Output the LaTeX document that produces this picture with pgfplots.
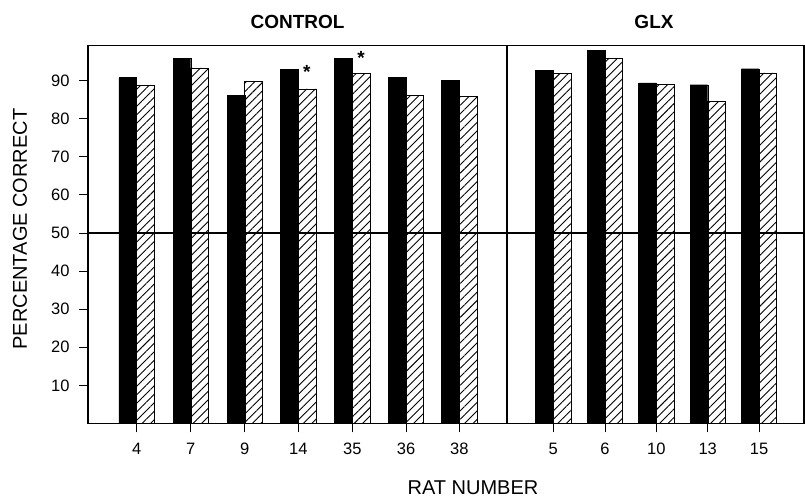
\documentclass[border=0pt]{standalone}
\usepackage{pgfplots}
\pgfplotsset{compat=1.18}
\usepackage{pgfplotstable}
\usetikzlibrary{patterns.meta}
\usepackage{fontspec}
\setmainfont{Liberation Sans}

\pgfplotstableread{
x     black hatch
136.7 90.8 88.7
190.7 95.8 93.3
244.7 86.1 89.7
298.3 93.0 87.8
352.3 95.8 91.8
406.0 90.9 86.1
459.3 90.1 85.8
553.3 92.6 91.9
605.0 97.9 95.7
656.3 89.4 89.0
707.7 88.9 84.4
759.0 93.1 92.0
}\data

\begin{document}
\begin{tikzpicture}
\begin{axis}[
  at={(0,0)}, anchor=south west,
  scale only axis,
  width=716pt, height=378pt,
  xmin=88, xmax=804, ymin=0, ymax=99.2,
  axis line style={line width=1.3pt},
  ybar, bar width=17.7,
  xtick={136.7,190.7,244.7,298.3,352.3,406.0,459.3,553.3,605.0,656.3,707.7,759.0},
  xticklabels={4,7,9,14,35,36,38,5,6,10,13,15},
  ytick={10,20,30,40,50,60,70,80,90},
  xtick pos=bottom, ytick pos=left,
  tick align=outside,
  major tick length=9pt,
  tick style={line width=0.9pt, black},
  /pgf/number format/assume math mode=true,
  ticklabel style={font=\fontsize{16.5}{19}\selectfont},
  xticklabel style={yshift=-7pt},
  yticklabel style={xshift=-6pt},
  xlabel={RAT NUMBER},
  ylabel={PERCENTAGE CORRECT},
  label style={font=\fontsize{20}{24}\selectfont},
  xlabel style={at={(rel axis cs:0.5377,-0.1688)}, anchor=center},
  ylabel style={at={(rel axis cs:-0.095,0.5146)}, anchor=center, rotate=0},
  clip=false,
]
\addplot[fill=black, draw=black, bar shift=-8.85] table[x=x, y=black] {\data};
\addplot[draw=black, line width=0.8pt, bar shift=8.85,
  pattern={Lines[angle=45, distance=6pt, line width=0.9pt]}, pattern color=black]
  table[x=x, y=hatch] {\data};
\addplot[sharp plot, draw=black, line width=1.1pt, bar shift=0pt] coordinates {(88,50) (804,50)};
\addplot[sharp plot, draw=black, line width=1.1pt, bar shift=0pt] coordinates {(507,0) (507,99.2)};
\addplot[draw=none, mark=none, bar shift=0pt, only marks,
  nodes near coords={\bfseries *},
  every node near coord/.style={anchor=base, inner sep=0pt, font=\fontsize{19}{21}\selectfont}]
  coordinates {(306.9,90.6) (361.1,94.1)};
\node[font=\bfseries\fontsize{19}{22}\selectfont] at (rel axis cs:0.2926,1.063) {CONTROL};
\node[font=\bfseries\fontsize{19}{22}\selectfont] at (rel axis cs:0.7905,1.063) {GLX};
\end{axis}
\path (-88pt,-70.5pt) rectangle (717pt,423.5pt);
\end{tikzpicture}
\end{document}
